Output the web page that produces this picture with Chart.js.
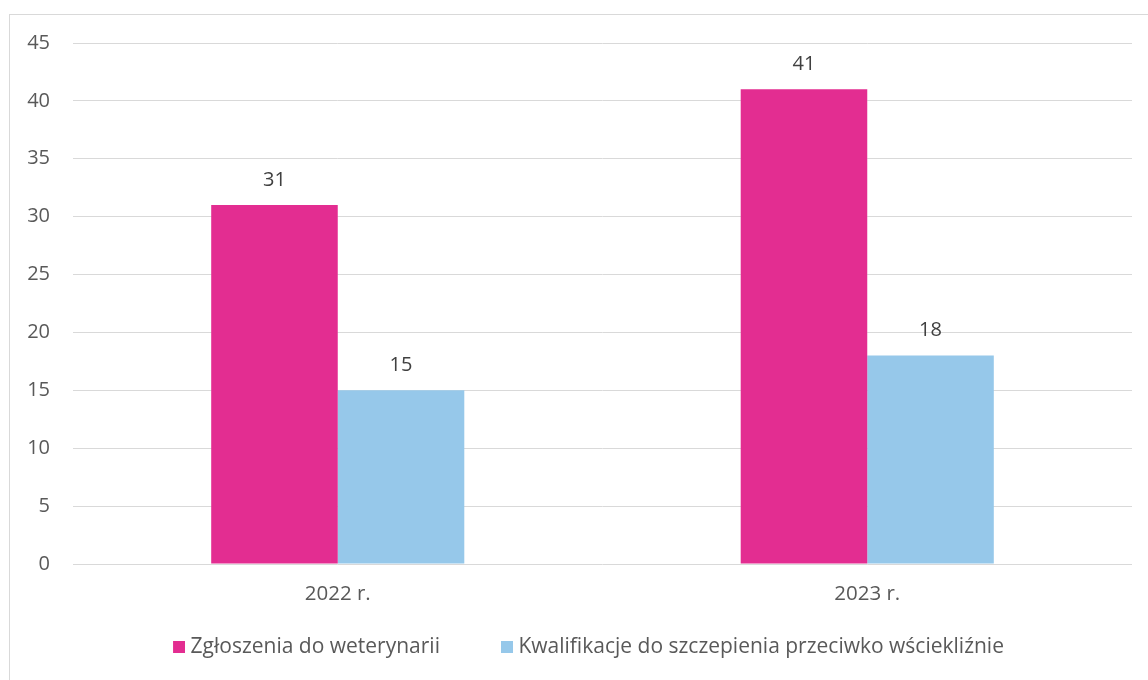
<!DOCTYPE html>
<html>
<head>
<meta charset="utf-8">
<script src="https://cdn.jsdelivr.net/npm/chart.js@4"></script>
<style>
html,body{margin:0;padding:0;background:#fff;overflow:hidden;width:1148px;height:680px;}
#frame{position:absolute;left:9px;top:14px;width:1160px;height:700px;border:1px solid #d9d9d9;box-sizing:border-box;}
#c{position:absolute;left:0;top:0;}
</style>
</head>
<body>
<div id="frame"></div>
<canvas id="c" width="1148" height="680"></canvas>
<script>
const categories = ["2022 r.", "2023 r."];
const seriesNames = ["Zgłoszenia do weterynarii", "Kwalifikacje do szczepienia przeciwko wściekliźnie"];
const zgloszenia = [31, 41];
const kwalifikacje = [15, 18];
const yTicks = [0, 5, 10, 15, 20, 25, 30, 35, 40, 45];
const seriesColors = ['#E32D91', '#96C8EA'];

const FONT = "'Open Sans', sans-serif";
const MARKER_SLOT = 52;

// legend marker: a 12x12 square placed at the right end of the marker slot
function marker(color) {
  const c = document.createElement('canvas');
  c.width = MARKER_SLOT + 10; c.height = 12;
  const g = c.getContext('2d');
  g.fillStyle = color;
  g.fillRect(c.width - 12, 0, 12, 12);
  return c;
}

const valueLabels = {
  id: 'valueLabels',
  afterDatasetsDraw(chart) {
    const ctx = chart.ctx;
    ctx.save();
    ctx.font = "20px " + FONT;
    ctx.fillStyle = '#404040';
    ctx.textAlign = 'center';
    ctx.textBaseline = 'middle';
    chart.data.datasets.forEach((ds, i) => {
      chart.getDatasetMeta(i).data.forEach((el, j) => {
        ctx.fillText(String(ds.data[j]), el.x, el.y - 25);
      });
    });
    ctx.restore();
  }
};

new Chart(document.getElementById('c'), {
  type: 'bar',
  data: {
    labels: categories,
    datasets: [
      { label: seriesNames[0], data: zgloszenia, backgroundColor: seriesColors[0], pointStyle: marker(seriesColors[0]), categoryPercentage: 0.478, barPercentage: 1 },
      { label: seriesNames[1], data: kwalifikacje, backgroundColor: seriesColors[1], pointStyle: marker(seriesColors[1]), categoryPercentage: 0.478, barPercentage: 1 }
    ]
  },
  options: {
    responsive: false,
    animation: false,
    layout: { padding: { left: 0, right: 16, top: 43, bottom: 12.5 } },
    plugins: {
      tooltip: { enabled: false },
      legend: {
        position: 'bottom',
        labels: {
          usePointStyle: true,
          pointStyleWidth: MARKER_SLOT,
          boxHeight: 12,
          padding: 16,
          color: '#595959',
          font: { family: FONT, size: 21 }
        }
      }
    },
    scales: {
      x: {
        grid: { display: false, drawTicks: false },
        border: { display: false },
        ticks: { color: '#595959', font: { family: FONT, size: 20.5 }, padding: 18 },
        afterFit(s) { s.height = 56.5; }
      },
      y: {
        min: 0, max: 45,
        afterBuildTicks(s) { s.ticks = yTicks.map(v => ({ value: v })); },
        grid: { color: '#d9d9d9', lineWidth: 1, drawTicks: false },
        border: { display: false },
        ticks: { color: '#595959', font: { family: FONT, size: 20 }, padding: 23 },
        afterFit(s) { s.width = 73; }
      }
    }
  },
  plugins: [valueLabels]
});
</script>
</body>
</html>
